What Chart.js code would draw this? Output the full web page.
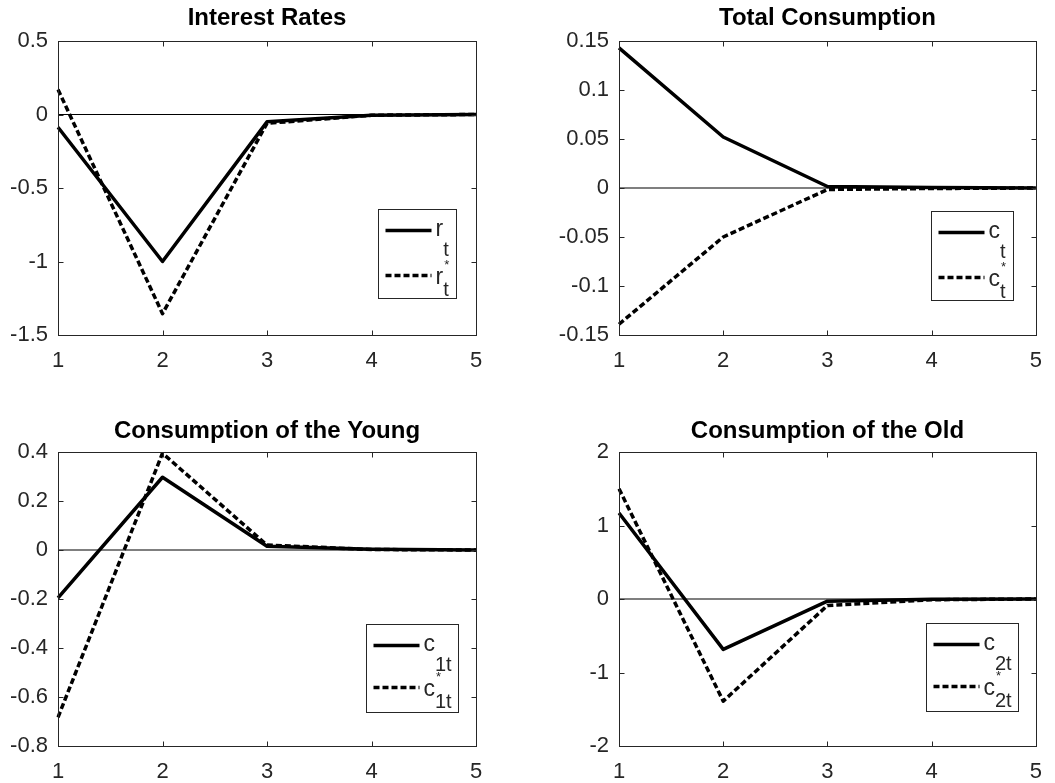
<!DOCTYPE html>
<html>
<head>
<meta charset="utf-8">
<script src="https://cdn.jsdelivr.net/npm/chart.js@4/dist/chart.umd.min.js"></script>
<style>
  html, body { margin: 0; padding: 0; background: #ffffff; }
  body { width: 1055px; height: 783px; position: relative; overflow: hidden; }
  canvas { position: absolute; }
</style>
</head>
<body>
<canvas id="p1"></canvas>
<canvas id="p2"></canvas>
<canvas id="p3"></canvas>
<canvas id="p4"></canvas>
<script>
// ---------------- data ----------------
const periods = ['1', '2', '3', '4', '5'];

const rHome   = [-0.087, -1.0, -0.05, -0.005, 0];
const rForeign = [0.17, -1.355, -0.06, -0.005, 0];

const cHome    = [0.143, 0.052, 0.0015, 0.0005, 0];
const cForeign = [-0.139, -0.050, -0.0015, -0.0005, 0];

const c1Home    = [-0.195, 0.297, 0.015, 0.003, 0];
const c1Foreign = [-0.683, 0.395, 0.02, 0.002, 0];

const c2Home    = [1.17, -0.685, -0.03, -0.005, 0];
const c2Foreign = [1.5, -1.39, -0.088, -0.01, 0];

const zeroLine = [0, 0, 0, 0, 0];

const ticksRates = [-1.5, -1, -0.5, 0, 0.5];
const ticksTotal = [-0.15, -0.1, -0.05, 0, 0.05, 0.1, 0.15];
const ticksYoung = [-0.8, -0.6, -0.4, -0.2, 0, 0.2, 0.4];
const ticksOld   = [-2, -1, 0, 1, 2];

const titles = ['Interest Rates', 'Total Consumption', 'Consumption of the Young', 'Consumption of the Old'];

const legendRates = [{ main: 'r', sub: 't', sup: '' }, { main: 'r', sub: 't', sup: '*' }];
const legendTotal = [{ main: 'c', sub: 't', sup: '' }, { main: 'c', sub: 't', sup: '*' }];
const legendYoung = [{ main: 'c', sub: '1t', sup: '' }, { main: 'c', sub: '1t', sup: '*' }];
const legendOld   = [{ main: 'c', sub: '2t', sup: '' }, { main: 'c', sub: '2t', sup: '*' }];

// ---------------- styling / layout ----------------
const FONT = '"Liberation Sans", Arial, Helvetica, sans-serif';
const AXIS_COLOR = '#262626';

// box around plot area + inward ticks (MATLAB style)
const boxPlugin = {
  id: 'matlabBox',
  afterDatasetsDraw(chart) {
    const { ctx, chartArea: a, scales } = chart;
    const x = scales.x, y = scales.y;
    ctx.save();
    ctx.strokeStyle = AXIS_COLOR;
    ctx.lineWidth = 1;
    ctx.setLineDash([]);
    const L = Math.round(a.left) + 0.5, R = Math.round(a.right) + 0.5;
    const T = Math.round(a.top) + 0.5, B = Math.round(a.bottom) + 0.5;
    ctx.strokeRect(L, T, R - L, B - T);
    const tl = 5;
    ctx.beginPath();
    y.ticks.forEach(t => {
      const py = Math.round(y.getPixelForValue(t.value)) + 0.5;
      ctx.moveTo(L, py); ctx.lineTo(L + tl, py);
      ctx.moveTo(R, py); ctx.lineTo(R - tl, py);
    });
    x.ticks.forEach((t, i) => {
      const px = Math.round(x.getPixelForTick(i)) + 0.5;
      ctx.moveTo(px, B); ctx.lineTo(px, B - tl);
      ctx.moveTo(px, T); ctx.lineTo(px, T + tl);
    });
    ctx.stroke();
    ctx.restore();
  }
};

// legend with sub/superscripts drawn inside the axes
const texLegendPlugin = {
  id: 'texLegend',
  afterDraw(chart, args, opts) {
    if (!opts || !opts.entries) return;
    const { ctx, chartArea: a } = chart;
    const bx = Math.round(a.right - opts.rightGap - opts.w) + 0.5;
    const by = Math.round(a.bottom - opts.bottomGap - opts.h) + 0.5;
    ctx.save();
    ctx.fillStyle = '#ffffff';
    ctx.fillRect(bx, by, opts.w, opts.h);
    ctx.strokeStyle = AXIS_COLOR;
    ctx.lineWidth = 1;
    ctx.setLineDash([]);
    ctx.strokeRect(bx, by, opts.w, opts.h);
    opts.entries.forEach((e, i) => {
      const ds = chart.data.datasets[i];
      const ly = by + opts.rowY[i];
      ctx.save();
      ctx.strokeStyle = ds.borderColor;
      ctx.lineWidth = ds.borderWidth;
      ctx.setLineDash(ds.borderDash || []);
      ctx.lineCap = 'butt';
      ctx.beginPath();
      ctx.moveTo(bx + 7, ly);
      ctx.lineTo(bx + 53, ly);
      ctx.stroke();
      ctx.restore();
      ctx.fillStyle = AXIS_COLOR;
      ctx.textBaseline = 'alphabetic';
      ctx.textAlign = 'left';
      const tx = bx + 57;
      ctx.font = '23px ' + FONT;
      const hasSup = !!e.sup;
      ctx.fillText(e.main, tx, ly + (hasSup ? 8 : 5));
      const mw = ctx.measureText(e.main).width;
      ctx.font = '20px ' + FONT;
      ctx.fillText(e.sub, tx + mw, ly + (hasSup ? 20 : 25));
      if (hasSup) {
        ctx.font = '13px ' + FONT;
        ctx.fillText(e.sup, tx + mw + 1, ly - 7);
      }
    });
    ctx.restore();
  }
};

function makePanel(id, cfg) {
  const cv = document.getElementById(id);
  cv.width = cfg.cw; cv.height = cfg.ch;
  cv.style.left = cfg.cx + 'px'; cv.style.top = cfg.cy + 'px';
  cv.style.width = cfg.cw + 'px'; cv.style.height = cfg.ch + 'px';
  const yTicks = cfg.ticks;
  return new Chart(cv, {
    type: 'line',
    data: {
      labels: periods,
      datasets: [
        { data: cfg.home, borderColor: '#000000', borderWidth: 3.5, pointRadius: 0, tension: 0,
          borderJoinStyle: 'round', fill: false },
        { data: cfg.foreign, borderColor: '#000000', borderWidth: 3.5, borderDash: [6, 3], pointRadius: 0,
          tension: 0, borderJoinStyle: 'round', fill: false },
        { data: zeroLine, borderColor: '#000000', borderWidth: 1.2, pointRadius: 0, tension: 0, fill: false }
      ]
    },
    options: {
      responsive: false,
      animation: false,
      devicePixelRatio: 1,
      events: [],
      layout: { padding: { left: 0, top: 0, bottom: 0, right: cfg.padRight } },
      scales: {
        x: {
          type: 'category',
          offset: false,
          grid: { display: false, drawTicks: false },
          border: { display: false },
          ticks: { color: AXIS_COLOR, font: { family: FONT, size: 22 }, padding: 13, maxRotation: 0, autoSkip: false },
          afterFit: s => { s.height = cfg.xH; }
        },
        y: {
          type: 'linear',
          min: yTicks[0], max: yTicks[yTicks.length - 1],
          grid: { display: false, drawTicks: false },
          border: { display: false },
          ticks: { color: AXIS_COLOR, font: { family: FONT, size: 22 }, padding: 10,
                   callback: v => String(v) },
          afterBuildTicks: s => { s.ticks = yTicks.map(v => ({ value: v })); },
          afterFit: s => { s.width = cfg.yW; }
        }
      },
      plugins: {
        legend: { display: false },
        tooltip: { enabled: false },
        title: {
          display: true, text: cfg.title, fullSize: false, color: '#000000',
          font: { family: FONT, size: 24, weight: 'bold', lineHeight: 1.2 },
          padding: { top: cfg.tTop, bottom: cfg.tBottom }
        },
        texLegend: cfg.legend
      }
    },
    plugins: [boxPlugin, texLegendPlugin]
  });
}

// top-left
makePanel('p1', {
  cx: 0, cy: 0, cw: 540, ch: 390, yW: 58, xH: 55, padRight: 540 - 476,
  tTop: 3.5, tBottom: 8.7, title: titles[0], home: rHome, foreign: rForeign, ticks: ticksRates,
  legend: { w: 78, h: 89, rightGap: 20, bottomGap: 37, rowY: [21, 66], entries: legendRates }
});
// top-right
makePanel('p2', {
  cx: 540, cy: 0, cw: 515, ch: 390, yW: 619 - 540, xH: 55, padRight: 1055 - 1037,
  tTop: 3.5, tBottom: 8.7, title: titles[1], home: cHome, foreign: cForeign, ticks: ticksTotal,
  legend: { w: 82, h: 89, rightGap: 23, bottomGap: 35, rowY: [21, 66], entries: legendTotal }
});
// bottom-left
makePanel('p3', {
  cx: 0, cy: 390, cw: 540, ch: 393, yW: 58, xH: 37, padRight: 540 - 476,
  tTop: 27, tBottom: 6.2, title: titles[2], home: c1Home, foreign: c1Foreign, ticks: ticksYoung,
  legend: { w: 92, h: 88, rightGap: 18, bottomGap: 34, rowY: [21, 63], entries: legendYoung }
});
// bottom-right
makePanel('p4', {
  cx: 540, cy: 390, cw: 515, ch: 393, yW: 619 - 540, xH: 37, padRight: 1055 - 1037,
  tTop: 27, tBottom: 6.2, title: titles[3], home: c2Home, foreign: c2Foreign, ticks: ticksOld,
  legend: { w: 92, h: 88, rightGap: 18, bottomGap: 35, rowY: [21, 63], entries: legendOld }
});
</script>
</body>
</html>
